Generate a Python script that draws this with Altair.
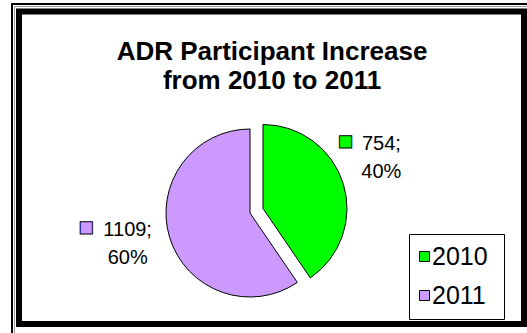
import altair as alt
import pandas as pd

# ---- data ----
years = ["2010", "2011"]
values = [754, 1109]
pct_labels = ["40%", "60%"]
title_lines = ["ADR Participant Increase", "from 2010 to 2011"]
colors = ["#00FF00", "#CC99FF"]

df = pd.DataFrame({"year": years, "value": values, "pct": pct_labels})

# ---- layout / style constants ----
FONT = "Liberation Sans"
CX, CY = 250, 213          # pie centre
R = 84                     # pie radius
EXP_DX, EXP_DY = 13, -4.5  # explosion of the 2010 slice
LABEL_R = 127
label_shift = {"2010": (-3, -27.5), "2011": (-1, -20.5)}
square_shift = {"2010": (-39, -30), "2011": (-42.5, -23)}
LEGEND_ROWS = [256.5, 295.5]

base = alt.Chart(df).transform_calculate(label="datum.value + ';\\n' + datum.pct")

theta = alt.Theta("value:Q", stack=True)
order = alt.Order("year:N", sort="ascending")
color = alt.Color("year:N", scale=alt.Scale(domain=years, range=colors), legend=None)
legend_y = alt.Y("year:N", axis=None,
                 scale=alt.Scale(domain=years, range=LEGEND_ROWS, padding=0))


def only(year):
    return alt.condition(alt.datum.year == year, alt.value(1), alt.value(0))


def offsets(year):
    return (EXP_DX, EXP_DY) if year == "2010" else (0, 0)


layers = []

# frame
frame_src = alt.Chart(pd.DataFrame({"k": [0]}))
layers.append(frame_src.mark_rect(fill="transparent", stroke="black", strokeWidth=2).encode(
    x=alt.value(12), x2=alt.value(700), y=alt.value(4), y2=alt.value(500)))
layers.append(frame_src.mark_rect(fill="transparent", stroke="#9a9a9a", strokeWidth=1).encode(
    x=alt.value(14.5), x2=alt.value(700), y=alt.value(6.5), y2=alt.value(500)))
layers.append(frame_src.mark_rect(fill="white", stroke="black", strokeWidth=6).encode(
    x=alt.value(19), x2=alt.value(524), y=alt.value(11.5), y2=alt.value(324)))

# title
layers.append(frame_src.mark_text(
    text=title_lines, font=FONT, fontSize=26, fontWeight="bold", lineHeight=28.5,
    align="center", baseline="alphabetic", color="black").encode(
    x=alt.value(272), y=alt.value(60)))

# slices: 2011 first (not exploded), then exploded 2010
for yr in ["2011", "2010"]:
    dx, dy = offsets(yr)
    layers.append(base.mark_arc(outerRadius=R, stroke="black", strokeWidth=1,
                                xOffset=dx, yOffset=dy).encode(
        theta=theta, order=order, color=color, opacity=only(yr),
        x=alt.value(CX), y=alt.value(CY)))

# data labels
for yr in years:
    dx, dy = offsets(yr)
    ldx, ldy = label_shift[yr]
    layers.append(base.mark_text(
        radius=LABEL_R, font=FONT, fontSize=20, lineBreak="\n", lineHeight=28,
        align="center", baseline="middle", color="black",
        dx=ldx, dy=ldy, xOffset=dx, yOffset=dy).encode(
        theta=theta, order=order, text="label:N", opacity=only(yr),
        x=alt.value(CX), y=alt.value(CY)))

# legend keys inside the data labels
for i, yr in enumerate(years):
    dx, dy = offsets(yr)
    sdx, sdy = square_shift[yr]
    layers.append(base.mark_text(
        text="\u25A0", radius=LABEL_R, font="DejaVu Sans", fontSize=16,
        fill=colors[i], stroke="black", strokeWidth=1,
        align="center", baseline="middle",
        dx=sdx, dy=sdy, xOffset=dx, yOffset=dy).encode(
        theta=theta, order=order, opacity=only(yr),
        x=alt.value(CX), y=alt.value(CY)))

# legend (box, keys, labels)
layers.append(frame_src.mark_rect(fill="white", stroke="black", strokeWidth=1).encode(
    x=alt.value(409.5), x2=alt.value(504.5), y=alt.value(234.5), y2=alt.value(319.5)))
layers.append(base.mark_square(size=100, stroke="black", strokeWidth=1, opacity=1).encode(
    x=alt.value(424.5), y=legend_y, color=color))
layers.append(base.mark_text(font=FONT, fontSize=25, align="left", baseline="middle",
                             color="black").encode(
    x=alt.value(432), y=legend_y, text="year:N"))

chart = alt.layer(*layers).properties(
    width=527, height=333, padding=0,
    autosize=alt.AutoSizeParams(type="none"),
    background="white",
).configure_view(strokeWidth=0)

chart.save("out.html", embed_options={"renderer": "svg", "actions": False})
